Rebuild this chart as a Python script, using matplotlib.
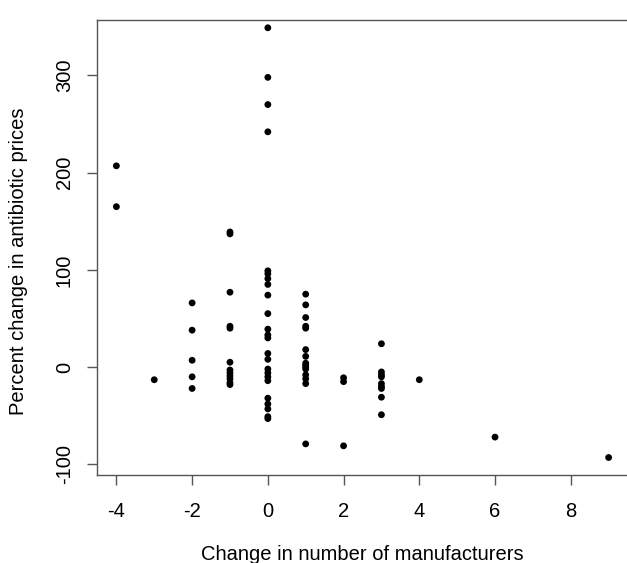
import matplotlib.pyplot as plt

# change in number of manufacturers vs percent change in price
mfr_change = ([-4] * 2 + [-3] + [-2] * 5 + [-1] * 12 + [0] * 24 + [1] * 15
              + [2] * 3 + [3] * 9 + [4] + [6] + [9])
price_change = [
    207, 165,
    -13,
    66, 38, 7, -10, -22,
    139, 137, 77, 42, 40, 5, -3, -6, -9, -12, -16, -18,
    349, 298, 270, 242, 99, 96, 91, 85, 74, 55, 39, 33, 30, 14, 8, -2, -6,
    -10, -14, -32, -38, -43, -51, -53,
    75, 64, 51, 42, 40, 18, 11, 4, 2, 0, -2, -8, -12, -17, -79,
    -11, -15, -81,
    24, -5, -8, -10, -17, -20, -22, -31, -49,
    -13,
    -72,
    -93,
]
x_ticks = [-4, -2, 0, 2, 4, 6, 8]
y_ticks = [-100, 0, 100, 200, 300]

plt.rcParams["font.family"] = ["Liberation Sans", "DejaVu Sans"]

W, H = 627, 563
fig = plt.figure(figsize=(W / 100, H / 100), dpi=100)
left, right, top, bottom = 96.7, 628.3, 20, 475
ax = fig.add_axes([left / W, 1 - bottom / H, (right - left) / W, (bottom - top) / H])

ax.scatter(mfr_change, price_change, s=24, color="black", edgecolors="none")

ax.set_xlim(-4.52, 9.52)
ax.set_ylim(-111, 357)
ax.set_xticks(x_ticks)
ax.set_xticklabels([str(v) for v in x_ticks])
ax.set_yticks(y_ticks)
ax.set_yticklabels([str(v) for v in y_ticks], rotation=90, va="center")

for sp in ax.spines.values():
    sp.set_color("#555555")
    sp.set_linewidth(1.0)
ax.tick_params(axis="both", direction="out", length=7.5, width=1.0,
               color="#555555", labelsize=14.5, labelcolor="black")
ax.tick_params(axis="x", pad=12)
ax.tick_params(axis="y", pad=9)

fig.text((left + right) / 2 / W, 1 - 555 / H, "Change in number of manufacturers",
         ha="center", va="center", fontsize=14.5)
fig.text(19 / W, 1 - 261 / H, "Percent change in antibiotic prices",
         ha="center", va="center", rotation=90, fontsize=14.5)

fig.savefig("out.png", dpi=100)
